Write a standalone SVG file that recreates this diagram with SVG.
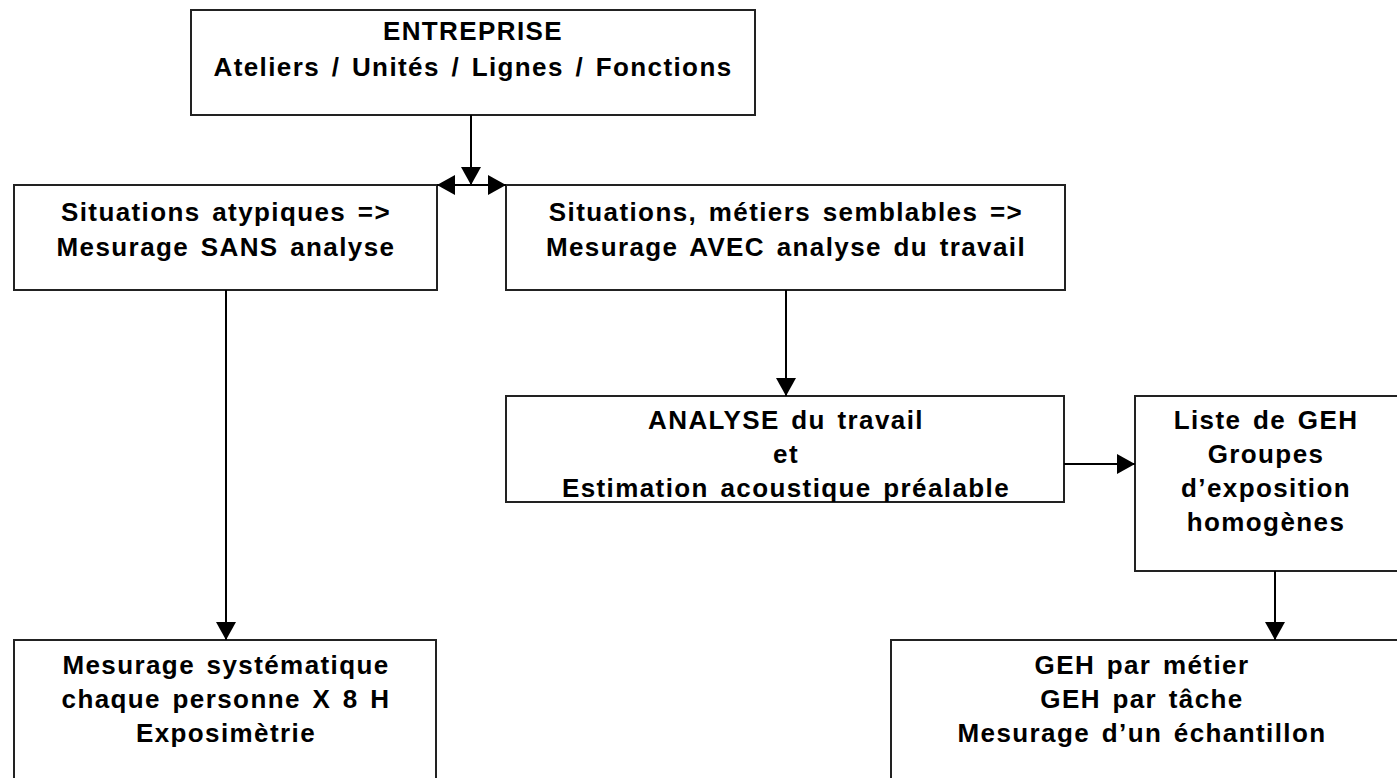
<svg xmlns="http://www.w3.org/2000/svg" width="1397" height="778" viewBox="0 0 1397 778">
<defs>
<style>
.box{fill:#fff;stroke:#222;stroke-width:2}
.t{font-family:"Liberation Sans",Arial,sans-serif;font-weight:bold;font-size:26px;letter-spacing:1.4px;word-spacing:3px;fill:#000;text-anchor:middle}
.c{fill:none;stroke:#000;stroke-width:2}
</style>
<marker id="ah" markerUnits="userSpaceOnUse" markerWidth="20" markerHeight="20" refX="18" refY="10" orient="auto" viewBox="0 0 20 20">
<path d="M0,0 L18,10 L0,20 z" fill="#000"/>
</marker>
</defs>
<rect width="1397" height="778" fill="#fff"/>
<g id="n-entreprise">
<rect class="box" x="191" y="10" width="564" height="105"/>
<text class="t" x="473" y="40">ENTREPRISE</text>
<text class="t" x="473" y="76">Ateliers / Unités / Lignes / Fonctions</text>
</g>
<g id="n-atypiques">
<rect class="box" x="14" y="185" width="423" height="105"/>
<text class="t" x="226" y="221">Situations atypiques =&gt;</text>
<text class="t" x="226" y="256">Mesurage SANS analyse</text>
</g>
<g id="n-semblables">
<rect class="box" x="506" y="185" width="559" height="105"/>
<text class="t" x="786" y="221">Situations, métiers semblables =&gt;</text>
<text class="t" x="786" y="256">Mesurage AVEC analyse du travail</text>
</g>
<g id="n-analyse">
<rect class="box" x="506" y="396" width="558" height="106"/>
<text class="t" x="786" y="429">ANALYSE du travail</text>
<text class="t" x="786" y="463">et</text>
<text class="t" x="786" y="497">Estimation acoustique préalable</text>
</g>
<g id="n-geh">
<rect class="box" x="1135" y="396" width="270" height="175"/>
<text class="t" x="1266" y="429">Liste de GEH</text>
<text class="t" x="1266" y="463">Groupes</text>
<text class="t" x="1266" y="497">d’exposition</text>
<text class="t" x="1266" y="531">homogènes</text>
</g>
<g id="n-systematique">
<rect class="box" x="14" y="640" width="422" height="150"/>
<text class="t" x="226" y="674">Mesurage systématique</text>
<text class="t" x="226" y="708">chaque personne X 8 H</text>
<text class="t" x="226" y="742">Exposimètrie</text>
</g>
<g id="n-echantillon">
<rect class="box" x="891" y="640" width="520" height="150"/>
<text class="t" x="1142" y="674">GEH par métier</text>
<text class="t" x="1142" y="708">GEH par tâche</text>
<text class="t" x="1142" y="742">Mesurage d’un échantillon</text>
</g>
<g id="connectors">
<line class="c" x1="471" y1="115" x2="471" y2="185" marker-end="url(#ah)"/>
<line class="c" x1="471" y1="185" x2="437" y2="185" marker-end="url(#ah)"/>
<line class="c" x1="471" y1="185" x2="506" y2="185" marker-end="url(#ah)"/>
<line class="c" x1="226" y1="290" x2="226" y2="640" marker-end="url(#ah)"/>
<line class="c" x1="786" y1="290" x2="786" y2="396" marker-end="url(#ah)"/>
<line class="c" x1="1064" y1="464" x2="1135" y2="464" marker-end="url(#ah)"/>
<line class="c" x1="1275" y1="571" x2="1275" y2="640" marker-end="url(#ah)"/>
</g>
</svg>
